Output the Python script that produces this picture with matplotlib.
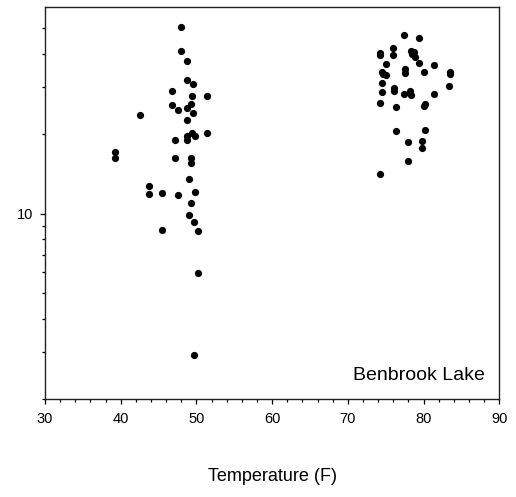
import matplotlib
matplotlib.use("Agg")
import matplotlib.pyplot as plt
from matplotlib.ticker import FixedLocator, NullFormatter, FixedFormatter

plt.rcParams['font.family'] = ['Liberation Sans', 'DejaVu Sans']

# Cold-season cluster
temp_cold = [47.9, 47.9, 48.8, 48.8, 49.6, 46.8, 49.4, 51.4, 46.8, 49.3,
             47.5, 48.75, 49.6, 42.5, 48.8, 49.4, 48.7, 49.8, 51.4, 48.8,
             47.2, 39.2, 39.2, 47.2, 49.3, 49.3, 49.0, 43.8, 43.8, 45.4,
             47.5, 49.85, 49.3, 49.0, 49.7, 45.4, 50.2, 50.2, 49.7]
value_cold = [50.4, 40.9, 37.7, 32.0, 30.9, 28.9, 27.8, 27.8, 25.6, 26.0,
              24.7, 25.0, 23.9, 23.6, 22.5, 20.2, 19.6, 19.6, 20.2, 18.9,
              18.9, 17.05, 16.2, 16.2, 16.2, 15.55, 13.5, 12.7, 11.9, 12.0,
              11.75, 12.1, 11.0, 9.9, 9.33, 8.71, 8.63, 5.98, 2.94]

# Warm-season cluster
temp_warm = [77.4, 79.4, 75.9, 74.3, 74.3, 75.9, 78.3, 78.7, 78.5, 78.9,
             75.0, 79.4, 81.4, 77.5, 77.5, 80.05, 74.5, 74.7, 75.1, 83.5,
             83.5, 74.5, 83.4, 76.1, 76.1, 74.5, 77.4, 78.2, 78.3, 81.4,
             74.3, 76.4, 80.05, 80.2, 76.4, 80.2, 78.0, 79.8, 79.8, 78.0,
             74.3]
value_warm = [47.0, 45.8, 42.1, 40.3, 39.7, 39.7, 40.9, 40.6, 40.0, 39.1,
              36.7, 37.1, 36.4, 35.0, 33.8, 34.2, 34.3, 33.6, 33.4, 34.3,
              33.6, 31.0, 30.2, 29.7, 29.1, 28.7, 28.2, 28.9, 27.9, 28.2,
              26.1, 25.2, 25.4, 25.8, 20.5, 20.6, 18.6, 18.8, 17.7, 15.8,
              14.1]

x_major = [30, 40, 50, 60, 70, 80, 90]
x_minor = list(range(30, 91, 2))
y_major = [10]
y_major_labels = ['10']
y_minor = [2, 3, 4, 5, 6, 7, 8, 9, 20, 30, 40, 50]

fig = plt.figure(figsize=(5.16, 4.97), dpi=100)
ax = fig.add_axes([45/516, 98/497, 454.3/516, 391.7/497])

ax.plot(temp_cold, value_cold, 'o', color='black', markersize=5.2, markeredgewidth=0)
ax.plot(temp_warm, value_warm, 'o', color='black', markersize=5.2, markeredgewidth=0)

ax.set_yscale('log')
ax.set_xlim(30, 90)
ax.set_ylim(2, 60)

ax.xaxis.set_major_locator(FixedLocator(x_major))
ax.xaxis.set_minor_locator(FixedLocator(x_minor))
ax.yaxis.set_major_locator(FixedLocator(y_major))
ax.yaxis.set_major_formatter(FixedFormatter(y_major_labels))
ax.yaxis.set_minor_locator(FixedLocator(y_minor))
ax.yaxis.set_minor_formatter(NullFormatter())

ax.tick_params(axis='both', which='major', direction='out', length=3.6, width=0.9,
               labelsize=10.5, colors='black')
ax.tick_params(axis='both', which='minor', direction='out', length=2.2, width=0.9)
ax.tick_params(axis='x', which='major', pad=6)
ax.tick_params(axis='y', which='major', pad=5)

for s in ax.spines.values():
    s.set_linewidth(1.0)
    s.set_color('#222222')

ax.set_xlabel('Temperature (F)', fontsize=13, labelpad=30)
ax.text(0.9685, 0.0485, 'Benbrook Lake', transform=ax.transAxes,
        ha='right', va='baseline', fontsize=14)

fig.savefig('out.png', dpi=100)
